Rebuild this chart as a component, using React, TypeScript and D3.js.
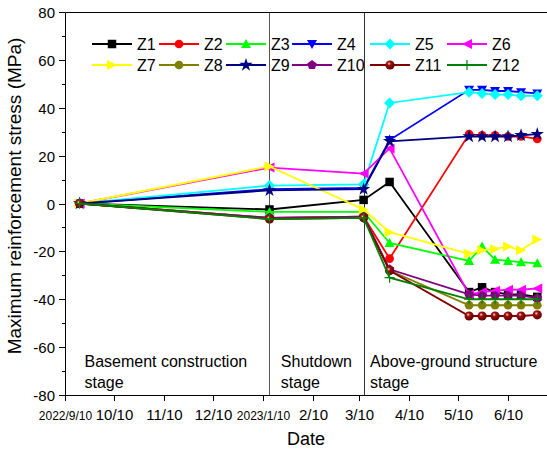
import { useEffect, useRef } from "react";
import * as d3 from "d3";

// measurement dates (shared by all series)
const DATES = [
  "2022-09-19", "2023-01-14", "2023-03-13", "2023-03-29",
  "2023-05-17", "2023-05-25", "2023-06-02", "2023-06-10", "2023-06-18", "2023-06-28",
];

const Z1 = [0, -2.5, 1.5, 9, -37, -35, -37, -38, -38, -39];
const Z2 = [0, -6, -5.5, -23, 29, 28.5, 28.5, 28, 28, 27];
const Z3 = [0, -3.5, -3.5, -16.5, -24, -18, -23.5, -24, -24.5, -25];
const Z4 = [0, 6, 6.5, 26.5, 47.5, 47.5, 47, 47, 46.5, 46];
const Z5 = [0, 7.5, 8, 42, 46.5, 46, 45.5, 45.5, 45, 45];
const Z6 = [0, 15, 12.5, 23, -38, -37, -36.5, -36, -36, -35.5];
const Z7 = [0, 15.5, -2.5, -12, -21, -19.5, -19, -18, -19.5, -15];
const Z8 = [0, -6, -5.5, -28, -42.5, -42.5, -42.5, -42.5, -42.5, -42.5];
const Z9 = [0, 5.5, 6, 26, 28, 28, 28, 28, 28.5, 29];
const Z10 = [0, -6, -5.5, -27.5, -38, -38.5, -38.5, -38.5, -38.5, -39.5];
const Z11 = [0, -6.5, -6, -28, -47, -47, -47, -47, -47, -46.5];
const Z12 = [0, -6.5, -6, -31, -40, -40, -40, -40, -40, -40];

const SERIES = [
  { name: "Z1", values: Z1, color: "#000000", marker: "square" },
  { name: "Z2", values: Z2, color: "#ff0000", marker: "circle" },
  { name: "Z3", values: Z3, color: "#00ff00", marker: "up" },
  { name: "Z4", values: Z4, color: "#0000ff", marker: "down" },
  { name: "Z5", values: Z5, color: "#00ffff", marker: "diamond" },
  { name: "Z6", values: Z6, color: "#ff00ff", marker: "left" },
  { name: "Z7", values: Z7, color: "#ffff00", marker: "right" },
  { name: "Z8", values: Z8, color: "#808000", marker: "circle" },
  { name: "Z9", values: Z9, color: "#000080", marker: "star" },
  { name: "Z10", values: Z10, color: "#800080", marker: "pentagon" },
  { name: "Z11", values: Z11, color: "#800000", marker: "sphere" },
  { name: "Z12", values: Z12, color: "#008000", marker: "plus" },
];

const X_TICKS = [
  { date: "2022-09-10", label: "2022/9/10", small: true },
  { date: "2022-10-10", label: "10/10" },
  { date: "2022-11-10", label: "11/10" },
  { date: "2022-12-10", label: "12/10" },
  { date: "2023-01-10", label: "2023/1/10", small: true },
  { date: "2023-02-10", label: "2/10" },
  { date: "2023-03-10", label: "3/10" },
  { date: "2023-04-10", label: "4/10" },
  { date: "2023-05-10", label: "5/10" },
  { date: "2023-06-10", label: "6/10" },
];

const STAGE_LINES = ["2023-01-14", "2023-03-13"];
const STAGES = [
  { at: "2022-09-22", lines: ["Basement construction", "stage"] },
  { at: "2023-01-21", lines: ["Shutdown", "stage"] },
  { at: "2023-03-17", lines: ["Above-ground structure", "stage"] },
];

const FONT = "'Liberation Sans', Arial, sans-serif";

function markerPath(kind: string, s: number) {
  const h = s / 2;
  switch (kind) {
    case "left":
      return `M${-h},0L${h},${-h}L${h},${h}Z`;
    case "right":
      return `M${h},0L${-h},${-h}L${-h},${h}Z`;
    case "up":
      return `M0,${-h}L${h},${h * 0.8}L${-h},${h * 0.8}Z`;
    case "down":
      return `M0,${h}L${h},${-h * 0.8}L${-h},${-h * 0.8}Z`;
    case "diamond":
      return `M0,${-h * 1.1}L${h * 1.1},0L0,${h * 1.1}L${-h * 1.1},0Z`;
    case "square":
      return `M${-h * 0.85},${-h * 0.85}h${h * 1.7}v${h * 1.7}h${-h * 1.7}Z`;
    case "pentagon": {
      const pts = d3.range(5).map((i) => {
        const a = -Math.PI / 2 + (i * 2 * Math.PI) / 5;
        return [Math.cos(a) * h, Math.sin(a) * h];
      });
      return "M" + pts.map((p) => p.join(",")).join("L") + "Z";
    }
    case "star":
      return d3.symbol(d3.symbolStar, s * s * 0.55)()!;
    case "plus":
      return `M${-h},0H${h}M0,${-h}V${h}`;
    default:
      return d3.symbol(d3.symbolCircle, s * s * 0.6)()!;
  }
}

function drawMarker(g: any, kind: string, color: string, cx: number, cy: number) {
  if (kind === "sphere") {
    g.append("circle").attr("cx", cx).attr("cy", cy).attr("r", 4.6).attr("fill", "url(#sphereGrad)");
    return;
  }
  const p = g.append("path").attr("d", markerPath(kind, 10)).attr("transform", `translate(${cx},${cy})`);
  if (kind === "plus") p.attr("fill", "none").attr("stroke", color).attr("stroke-width", 1.2);
  else p.attr("fill", color);
}

export default function App() {
  const ref = useRef<SVGSVGElement>(null);

  useEffect(() => {
    const svg = d3.select(ref.current!);
    svg.selectAll("*").remove();

    const left = 65, right = 547, top = 12, bottom = 395;
    const parse = d3.timeParse("%Y-%m-%d");
    const x = d3.scaleTime().domain([parse("2022-09-10")!, parse("2023-07-04")!]).range([left, right]);
    const y = d3.scaleLinear().domain([-80, 80]).range([bottom, top]);

    const defs = svg.append("defs");
    const grad = defs.append("radialGradient").attr("id", "sphereGrad").attr("cx", "40%").attr("cy", "35%").attr("r", "65%");
    grad.append("stop").attr("offset", "0%").attr("stop-color", "#ffdddd");
    grad.append("stop").attr("offset", "30%").attr("stop-color", "#a01010");
    grad.append("stop").attr("offset", "100%").attr("stop-color", "#600000");

    svg.append("rect").attr("width", 547).attr("height", 450).attr("fill", "#fff");

    // stage separators
    STAGE_LINES.forEach((d, i) => {
      const xp = Math.round(x(parse(d)!)) + 0.5;
      svg.append("line").attr("x1", xp).attr("x2", xp).attr("y1", top).attr("y2", bottom)
        .attr("stroke", i === 0 ? "#555" : "#333").attr("stroke-width", 1);
    });

    // frame
    svg.append("path")
      .attr("d", `M${right},${top + 0.5}H${left + 0.5}V${bottom + 0.5}H${right}`)
      .attr("fill", "none").attr("stroke", "#000").attr("stroke-width", 1);

    // y ticks
    d3.range(-80, 81, 10).forEach((v) => {
      const yp = Math.round(y(v)) + 0.5;
      const major = v % 20 === 0;
      svg.append("line").attr("x1", left).attr("x2", left - (major ? 6 : 3)).attr("y1", yp).attr("y2", yp).attr("stroke", "#000");
      if (major)
        svg.append("text").attr("x", 55).attr("y", yp).attr("dy", "0.36em").attr("text-anchor", "end")
          .attr("font-family", FONT).attr("font-size", 15).text(v);
    });

    // x ticks
    X_TICKS.forEach((t) => {
      const xp = Math.round(x(parse(t.date)!)) + 0.5;
      svg.append("line").attr("x1", xp).attr("x2", xp).attr("y1", bottom).attr("y2", bottom + 6).attr("stroke", "#000");
      svg.append("text").attr("x", xp).attr("y", 420).attr("text-anchor", "middle")
        .attr("font-family", FONT).attr("font-size", t.small ? 12 : 15).text(t.label);
    });

    svg.append("text").attr("x", 306).attr("y", 445).attr("text-anchor", "middle")
      .attr("font-family", FONT).attr("font-size", 18).text("Date");
    svg.append("text").attr("transform", "translate(21,196) rotate(-90)").attr("text-anchor", "middle")
      .attr("font-family", FONT).attr("font-size", 19).text("Maximum reinforcement stress (MPa)");

    // stage labels
    STAGES.forEach((s) => {
      s.lines.forEach((ln, i) => {
        svg.append("text").attr("x", x(parse(s.at)!)).attr("y", 367 + i * 21)
          .attr("font-family", FONT).attr("font-size", 16).text(ln);
      });
    });

    // series
    const dates = DATES.map((d) => parse(d)!);
    const line = d3.line<number>().x((_, i) => x(dates[i])).y((v) => y(v));
    SERIES.forEach((s) => {
      const g = svg.append("g");
      g.append("path").attr("d", line(s.values)).attr("fill", "none").attr("stroke", s.color).attr("stroke-width", 1.8);
      s.values.forEach((v, i) => drawMarker(g, s.marker, s.color, x(dates[i]), y(v)));
    });

    // legend
    const cols = [92, 159, 226, 292, 370, 447];
    const rows = [44, 65];
    SERIES.forEach((s, i) => {
      const lx = cols[i % 6];
      const ly = rows[Math.floor(i / 6)];
      const g = svg.append("g");
      g.append("line").attr("x1", lx).attr("x2", lx + 40).attr("y1", ly).attr("y2", ly).attr("stroke", s.color).attr("stroke-width", 1.8);
      drawMarker(g, s.marker, s.color, lx + 20, ly);
      g.append("text").attr("x", lx + 45).attr("y", ly).attr("dy", "0.36em")
        .attr("font-family", FONT).attr("font-size", 16).text(s.name);
    });
  }, []);

  return <svg ref={ref} width={547} height={450} style={{ position: "absolute", left: 0, top: 0 }} />;
}
